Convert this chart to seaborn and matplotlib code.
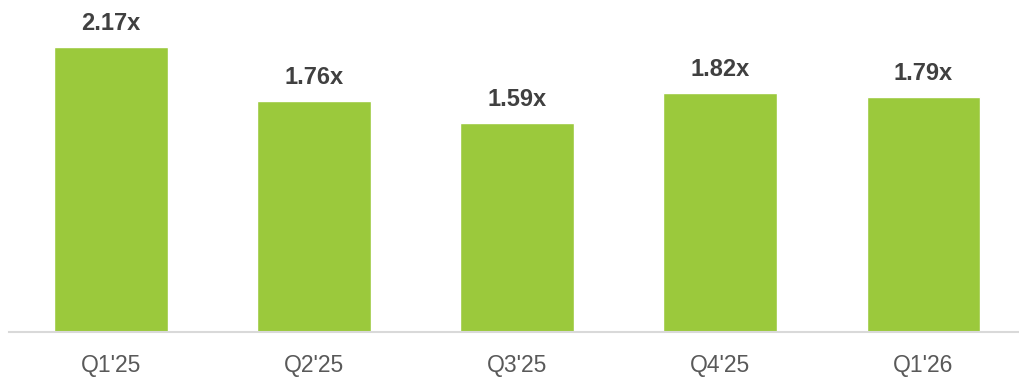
import matplotlib
matplotlib.use("Agg")
import matplotlib.pyplot as plt
import pandas as pd
import seaborn as sns

quarters = ["Q1'25", "Q2'25", "Q3'25", "Q4'25", "Q1'26"]
ratios = [2.17, 1.76, 1.59, 1.82, 1.79]

BAR_GREEN = "#9bc93c"

sns.set_theme(style="white")
plt.rcParams["font.family"] = ["Liberation Sans", "DejaVu Sans"]

df = pd.DataFrame({"quarter": quarters, "ratio": ratios})

fig = plt.figure(figsize=(10.19, 3.78), dpi=100)
ax = fig.add_axes([9 / 1019, 46 / 378, 1010 / 1019, 332 / 378])
sns.barplot(data=df, x="quarter", y="ratio", color=BAR_GREEN, width=0.56,
            saturation=1, ax=ax)

for i, val in enumerate(df["ratio"]):
    ax.annotate(f"{val:.2f}x", (i, val), xytext=(0, 9), textcoords="offset points",
                ha="center", va="bottom", fontsize=17, fontweight="bold",
                color="#404040")

ax.set_xlim(-0.5, 4.47)
ax.set_ylim(0, 2.53)
ax.set_xlabel("")
ax.set_ylabel("")
ax.set_yticks([])
for side in ["top", "right", "left"]:
    ax.spines[side].set_visible(False)
ax.spines["bottom"].set_color("#d9d9d9")
ax.spines["bottom"].set_linewidth(1.5)
ax.tick_params(axis="x", length=0, pad=16, labelsize=16.5, labelcolor="#595959")

fig.savefig("out.png", dpi=100)
